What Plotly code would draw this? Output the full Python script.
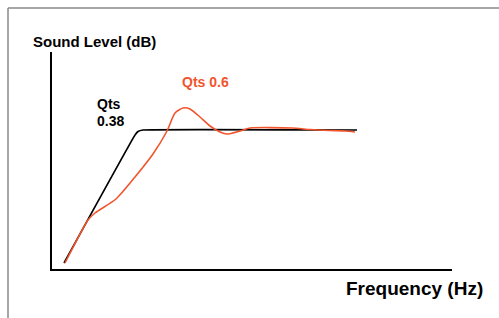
import plotly.graph_objects as go

# Frequency (arbitrary units) and sound level (arbitrary dB units)
qts038_freq = [12, 83, 86, 91, 305]
qts038_level = [6, 134, 137.5, 139, 139]

qts06_freq = [13, 36, 43, 64, 83, 101, 115, 123, 131, 138, 148, 158, 168, 175, 188, 198, 240, 258, 278, 293, 303]
qts06_level = [6, 49, 56, 70, 92, 115, 138, 156, 161, 160, 152, 143, 137, 135, 138, 141, 141, 139.5, 138.5, 138, 137]

ORANGE = "#F0552D"
FONT = "Liberation Sans, Arial, sans-serif"

fig = go.Figure()
fig.add_trace(go.Scatter(x=qts038_freq, y=qts038_level, mode="lines",
                         line=dict(color="black", width=1.6, shape="spline", smoothing=0.3),
                         showlegend=False, hoverinfo="skip"))
fig.add_trace(go.Scatter(x=qts06_freq, y=qts06_level, mode="lines",
                         line=dict(color=ORANGE, width=1.6, shape="spline", smoothing=0.6),
                         showlegend=False, hoverinfo="skip"))

axis_common = dict(showgrid=False, zeroline=False, showticklabels=False, ticks="",
                   showline=True, linecolor="black", linewidth=2, fixedrange=True)
fig.update_xaxes(range=[0, 400], **axis_common)
fig.update_yaxes(range=[0, 217], **axis_common)

# outer gray frame (partially cut)
fig.add_shape(type="line", xref="paper", yref="paper", x0=-0.11, x1=1.2, y0=1.2028, y1=1.2028,
              line=dict(color="#8a8a8a", width=1.5))
fig.add_shape(type="line", xref="paper", yref="paper", x0=-0.11, x1=-0.11, y0=1.2028, y1=-0.3,
              line=dict(color="#8a8a8a", width=1.5))

def ann(text, px, py, size, color="black", anchor="left"):
    fig.add_annotation(text=text, xref="paper", yref="paper",
                       x=(px - 52) / 400, y=(269 - py) / 217,
                       xanchor=anchor, yanchor="middle", showarrow=False,
                       font=dict(family=FONT, size=size, color=color))

ann("<b>Sound Level (dB)</b>", 31, 42, 15)
ann("<b>Frequency (Hz)</b>", 344, 288, 19)
ann("<b>Qts 0.6</b>", 180, 82, 14, ORANGE)
ann("<b>Qts</b>", 95, 104, 14)
ann("<b>0.38</b>", 95, 121, 14)

fig.update_layout(width=499, height=318, margin=dict(l=52, r=47, t=52, b=49),
                  paper_bgcolor="white", plot_bgcolor="white")

fig.write_html("out.html", config={"displayModeBar": False},
               post_script="document.body.style.margin='0';document.body.style.overflow='hidden';")
